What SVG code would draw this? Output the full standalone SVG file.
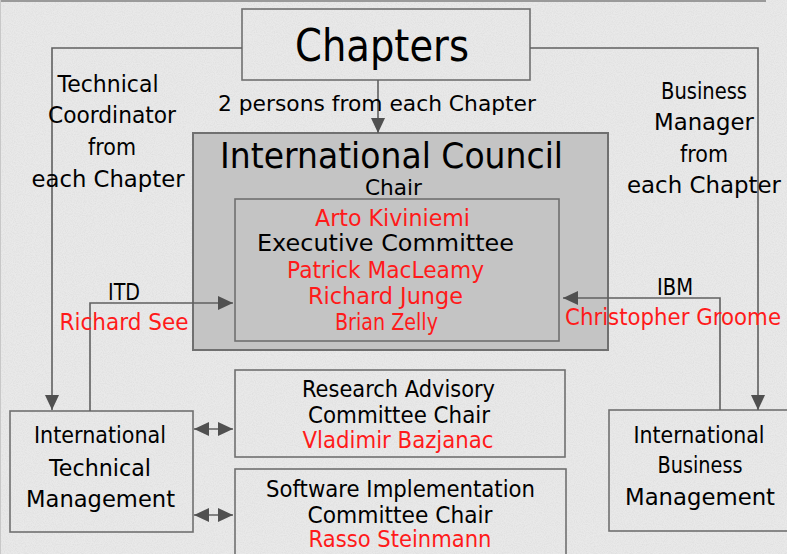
<svg xmlns="http://www.w3.org/2000/svg" width="787" height="554" viewBox="0 0 787 554">
<style>
text{font-family:"DejaVu Sans","Liberation Sans",sans-serif;fill:#000;text-anchor:middle;font-size:22.5px}
.r{fill:#ff1a1a}
.box{fill:none;stroke:#707070;stroke-width:1.6}
.ln{fill:none;stroke:#606060;stroke-width:1.6}
</style>
<defs>
<filter id="noise" x="0" y="0" width="100%" height="100%">
<feTurbulence type="fractalNoise" baseFrequency="0.9" numOctaves="2" seed="3"/>
<feColorMatrix type="matrix" values="0 0 0 0 0.55  0 0 0 0 0.55  0 0 0 0 0.55  0 0 0 -1.4 0.9"/>
</filter>
<marker id="ah" markerWidth="15" markerHeight="14" refX="15" refY="7" orient="auto" markerUnits="userSpaceOnUse">
<path d="M0,0 L15,7 L0,14 Z" fill="#505050"/>
</marker>
<marker id="ahs" markerWidth="15" markerHeight="14" refX="0" refY="7" orient="auto" markerUnits="userSpaceOnUse">
<path d="M15,0 L0,7 L15,14 Z" fill="#505050"/>
</marker>
</defs>
<rect width="787" height="554" fill="#e9e9e9"/>
<rect width="787" height="554" filter="url(#noise)" opacity="0.35"/>
<line x1="0" y1="1" x2="766" y2="1" stroke="#9a9a9a" stroke-width="2"/>
<line x1="0.5" y1="0" x2="0.5" y2="554" stroke="#c8c8c8" stroke-width="1"/>

<g id="chapters">
<rect class="box" x="242" y="9" width="288" height="71"/>
<text x="382" y="61" style="font-size:44px" textLength="174" lengthAdjust="spacingAndGlyphs">Chapters</text>
</g>

<g id="international-council">
<rect x="193" y="133" width="415" height="217" fill="#c4c4c4" stroke="#707070" stroke-width="2"/>
<text x="391.5" y="168" style="font-size:35px" textLength="343" lengthAdjust="spacingAndGlyphs">International Council</text>
<text x="393.5" y="195" style="font-size:22px" textLength="57" lengthAdjust="spacingAndGlyphs">Chair</text>
</g>

<g id="executive-committee">
<rect class="box" x="235" y="199" width="324" height="142"/>
<text class="r" x="392.5" y="226" textLength="155" lengthAdjust="spacingAndGlyphs">Arto Kiviniemi</text>
<text x="385.5" y="251" textLength="257" lengthAdjust="spacingAndGlyphs">Executive Committee</text>
<text class="r" x="385.5" y="278" textLength="197" lengthAdjust="spacingAndGlyphs">Patrick MacLeamy</text>
<text class="r" x="385.5" y="304" textLength="155" lengthAdjust="spacingAndGlyphs">Richard Junge</text>
<text class="r" x="386.5" y="330" textLength="103" lengthAdjust="spacingAndGlyphs">Brian Zelly</text>
</g>

<g id="international-technical-management">
<rect class="box" x="10" y="411" width="183" height="121"/>
<text x="100" y="443" textLength="132" lengthAdjust="spacingAndGlyphs">International</text>
<text x="100" y="476" textLength="102" lengthAdjust="spacingAndGlyphs">Technical</text>
<text x="100.5" y="507" textLength="149" lengthAdjust="spacingAndGlyphs">Management</text>
</g>

<g id="research-advisory">
<rect class="box" x="235" y="370" width="330" height="87"/>
<text x="398.5" y="397" textLength="193" lengthAdjust="spacingAndGlyphs">Research Advisory</text>
<text x="399" y="423" textLength="182" lengthAdjust="spacingAndGlyphs">Committee Chair</text>
<text class="r" x="398" y="448" textLength="191" lengthAdjust="spacingAndGlyphs">Vladimir Bazjanac</text>
</g>

<g id="software-implementation">
<rect class="box" x="235" y="469" width="331" height="100"/>
<text x="400.5" y="497" textLength="269" lengthAdjust="spacingAndGlyphs">Software Implementation</text>
<text x="400" y="523" textLength="185" lengthAdjust="spacingAndGlyphs">Committee Chair</text>
<text class="r" x="400" y="547" textLength="183" lengthAdjust="spacingAndGlyphs">Rasso Steinmann</text>
</g>

<g id="international-business-management">
<rect class="box" x="609" y="410" width="190" height="121"/>
<text x="699" y="443" textLength="131" lengthAdjust="spacingAndGlyphs">International</text>
<text x="700" y="473" textLength="85" lengthAdjust="spacingAndGlyphs">Business</text>
<text x="700" y="505" textLength="150" lengthAdjust="spacingAndGlyphs">Management</text>
</g>

<g id="connectors">
<polyline class="ln" points="242,48 52,48 52,410" marker-end="url(#ah)"/>
<polyline class="ln" points="530,48 758,48 758,410" marker-end="url(#ah)"/>
<line class="ln" x1="378" y1="80" x2="378" y2="133" marker-end="url(#ah)"/>
<polyline class="ln" points="90,411 90,303 233,303" marker-end="url(#ah)"/>
<polyline class="ln" points="720,410 720,298 563,298" marker-end="url(#ah)"/>
<line class="ln" x1="194" y1="429" x2="233" y2="429" marker-start="url(#ahs)" marker-end="url(#ah)"/>
<line class="ln" x1="194" y1="515" x2="233" y2="515" marker-start="url(#ahs)" marker-end="url(#ah)"/>
</g>

<g id="labels">
<text x="377" y="111" style="font-size:22px" textLength="318" lengthAdjust="spacingAndGlyphs">2 persons from each Chapter</text>
<text x="108" y="92" textLength="101" lengthAdjust="spacingAndGlyphs">Technical</text>
<text x="112" y="123" textLength="128" lengthAdjust="spacingAndGlyphs">Coordinator</text>
<text x="112" y="155" textLength="48" lengthAdjust="spacingAndGlyphs">from</text>
<text x="108" y="187" textLength="153" lengthAdjust="spacingAndGlyphs">each Chapter</text>
<text x="704" y="99" textLength="86" lengthAdjust="spacingAndGlyphs">Business</text>
<text x="704" y="130" textLength="100" lengthAdjust="spacingAndGlyphs">Manager</text>
<text x="704" y="162" textLength="48" lengthAdjust="spacingAndGlyphs">from</text>
<text x="704" y="193" textLength="154" lengthAdjust="spacingAndGlyphs">each Chapter</text>
<text x="124" y="300" textLength="32" lengthAdjust="spacingAndGlyphs">ITD</text>
<text class="r" x="124" y="330" textLength="129" lengthAdjust="spacingAndGlyphs">Richard See</text>
<text x="675" y="295" textLength="36" lengthAdjust="spacingAndGlyphs">IBM</text>
<text class="r" x="673" y="325" textLength="216" lengthAdjust="spacingAndGlyphs">Christopher Groome</text>
</g>
</svg>
